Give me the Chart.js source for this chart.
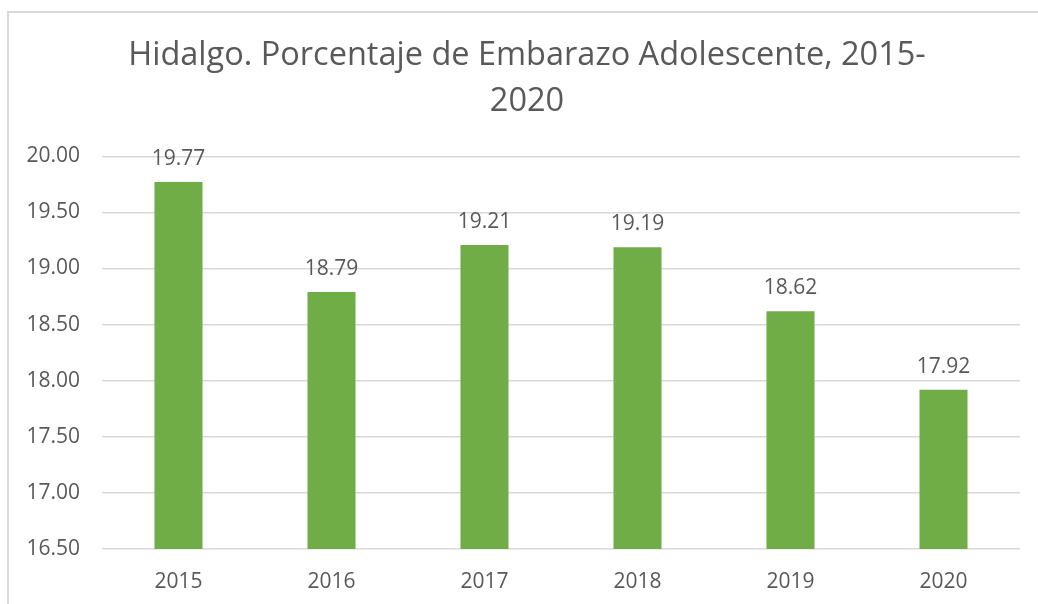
<!DOCTYPE html>
<html>
<head>
<meta charset="utf-8">
<script src="https://cdn.jsdelivr.net/npm/chart.js@4"></script>
<style>
  html, body { margin: 0; padding: 0; background: #ffffff; overflow: hidden; }
  #frame { position: absolute; left: 7px; top: 11px; width: 1100px; height: 700px; border: 2px solid #d9d9d9; }
  #wrap { position: absolute; left: 0; top: 0; width: 1038px; height: 604px; }
</style>
</head>
<body>
<div id="frame"></div>
<div id="wrap"><canvas id="chart1" width="1038" height="604"></canvas></div>
<script>
const years = ['2015', '2016', '2017', '2018', '2019', '2020'];
const percentages = [19.77, 18.79, 19.21, 19.19, 18.62, 17.92];
const yTicks = [16.5, 17, 17.5, 18, 18.5, 19, 19.5, 20];

const textColor = '#595959';
const fontName = "'Open Sans', 'Liberation Sans', sans-serif";

// draws the value above each bar
const barValues = {
  id: 'barValues',
  afterLayout(chart) {
    // let the y tick labels run left of the axis box without being clipped
    chart.scales.y.left = 0;
  },
  afterDatasetsDraw(chart) {
    const c = chart.ctx;
    const meta = chart.getDatasetMeta(0);
    c.save();
    c.font = '21px ' + fontName;
    c.fillStyle = textColor;
    c.textAlign = 'center';
    c.textBaseline = 'alphabetic';
    meta.data.forEach(function(bar, i) {
      c.fillText(percentages[i].toFixed(2), bar.x, bar.y - 17);
    });
    c.restore();
  }
};

new Chart(document.getElementById('chart1').getContext('2d'), {
  type: 'bar',
  data: {
    labels: years,
    datasets: [{
      data: percentages,
      backgroundColor: '#70ad47',
      borderWidth: 0,
      categoryPercentage: 1,
      barPercentage: 0.314
    }]
  },
  options: {
    responsive: false,
    animation: false,
    layout: { padding: { left: 34, right: 18, top: 0, bottom: 0 } },
    plugins: {
      legend: { display: false },
      tooltip: { enabled: false },
      title: {
        display: true,
        text: ['Hidalgo. Porcentaje de Embarazo Adolescente, 2015-', '2020'],
        color: textColor,
        font: { family: fontName, size: 32.5, weight: 'normal', lineHeight: 1.42 },
        padding: { top: 33, bottom: 31 }
      }
    },
    scales: {
      x: {
        afterFit: function(scale) { scale.height = 55; },
        grid: { display: false, drawTicks: false },
        border: { display: false },
        ticks: { color: textColor, font: { family: fontName, size: 21 }, padding: 20 }
      },
      y: {
        min: 16.5,
        max: 20,
        afterFit: function(scale) { scale.width = 68; },
        afterBuildTicks: function(scale) { scale.ticks = yTicks.map(v => ({ value: v })); },
        grid: { color: '#d9d9d9', lineWidth: 1.5, drawTicks: false },
        border: { display: false },
        ticks: {
          color: textColor,
          font: { family: fontName, size: 21 },
          padding: 22,
          callback: function(v) { return Number(v).toFixed(2); }
        }
      }
    }
  },
  plugins: [barValues]
});
</script>
</body>
</html>
